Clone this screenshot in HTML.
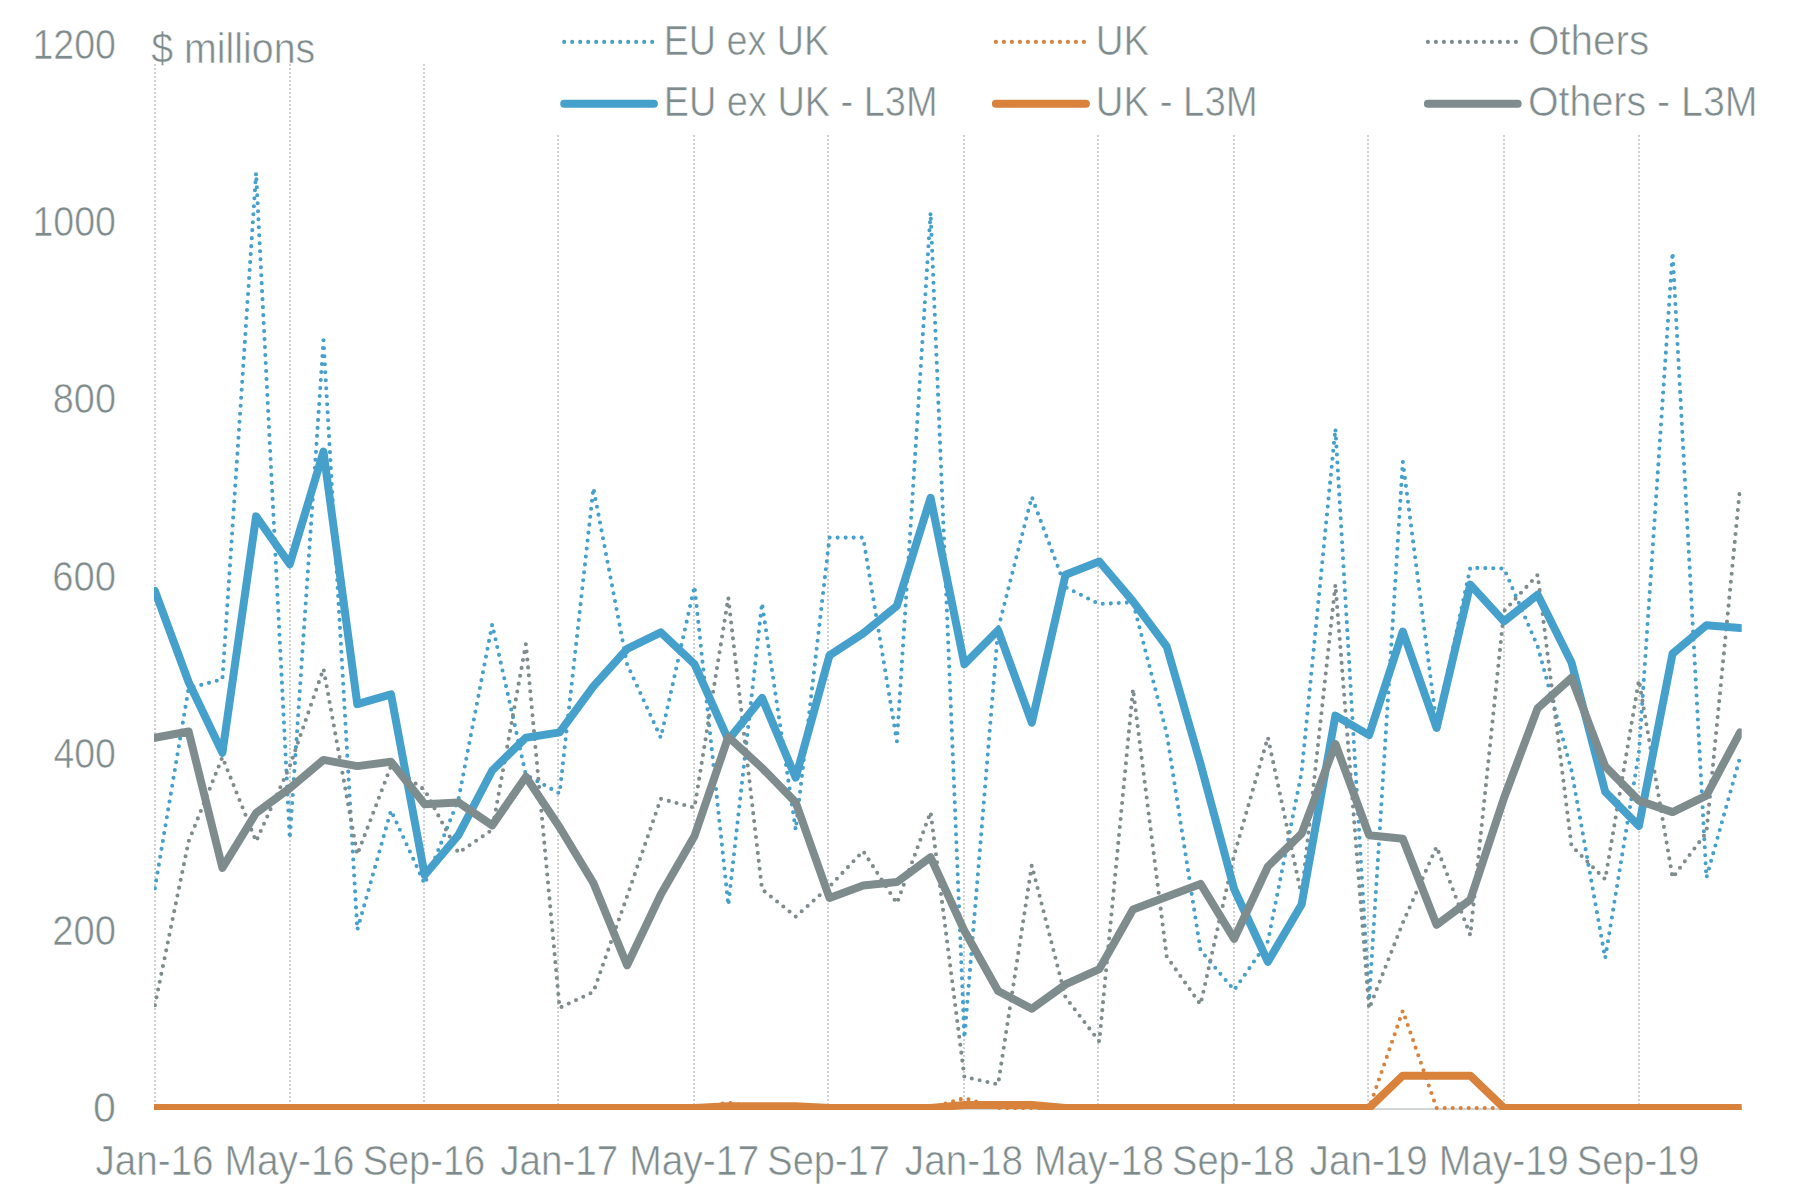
<!DOCTYPE html>
<html lang="en"><head><meta charset="utf-8"><title>Chart</title>
<style>html,body{margin:0;padding:0;background:#fff}svg{display:block}text{font-family:"Liberation Sans",sans-serif;font-size:42.5px;fill:#7F8C8D;stroke:#fff;stroke-width:0.6px}</style></head><body>
<svg width="1816" height="1196" viewBox="0 0 1816 1196">
<rect width="1816" height="1196" fill="#fff"/>
<line x1="155" y1="64" x2="155" y2="1107" stroke="#d1d1d1" stroke-width="2" stroke-dasharray="2 2"/>
<line x1="290" y1="64" x2="290" y2="1107" stroke="#d1d1d1" stroke-width="2" stroke-dasharray="2 2"/>
<line x1="424" y1="64" x2="424" y2="1107" stroke="#d1d1d1" stroke-width="2" stroke-dasharray="2 2"/>
<line x1="558" y1="135" x2="558" y2="1107" stroke="#d1d1d1" stroke-width="2" stroke-dasharray="2 2"/>
<line x1="694" y1="135" x2="694" y2="1107" stroke="#d1d1d1" stroke-width="2" stroke-dasharray="2 2"/>
<line x1="828" y1="135" x2="828" y2="1107" stroke="#d1d1d1" stroke-width="2" stroke-dasharray="2 2"/>
<line x1="964" y1="135" x2="964" y2="1107" stroke="#d1d1d1" stroke-width="2" stroke-dasharray="2 2"/>
<line x1="1098" y1="135" x2="1098" y2="1107" stroke="#d1d1d1" stroke-width="2" stroke-dasharray="2 2"/>
<line x1="1234" y1="135" x2="1234" y2="1107" stroke="#d1d1d1" stroke-width="2" stroke-dasharray="2 2"/>
<line x1="1368" y1="135" x2="1368" y2="1107" stroke="#d1d1d1" stroke-width="2" stroke-dasharray="2 2"/>
<line x1="1504" y1="135" x2="1504" y2="1107" stroke="#d1d1d1" stroke-width="2" stroke-dasharray="2 2"/>
<line x1="1639" y1="135" x2="1639" y2="1107" stroke="#d1d1d1" stroke-width="2" stroke-dasharray="2 2"/>
<line x1="154" y1="1109" x2="1741.7" y2="1109" stroke="#d2d5d5" stroke-width="2"/>
<clipPath id="pc"><rect x="154" y="60" width="1587.7" height="1050"/></clipPath><g clip-path="url(#pc)">
<polyline points="154.9,888.3 188.6,688.2 222.4,679.3 256.1,172.8 289.8,838.7 323.5,340.2 357.3,929.9 391.0,810.4 424.7,883.9 458.4,799.7 492.2,624.4 525.9,774.9 559.6,793.5 593.4,488.0 627.1,664.2 660.8,737.7 694.5,586.3 728.3,905.1 762.0,603.2 795.7,829.8 829.5,537.6 863.2,537.6 896.9,741.3 930.6,212.6 964.4,1037.9 998.1,628.8 1031.8,496.9 1065.5,587.2 1099.3,604.0 1133.0,602.3 1166.7,733.3 1200.5,950.3 1234.2,990.1 1267.9,941.4 1301.6,772.3 1335.4,428.7 1369.1,1000.7 1402.8,461.5 1436.6,724.5 1470.3,567.7 1504.0,568.6 1537.7,646.5 1571.5,770.5 1605.2,958.2 1638.9,752.8 1672.6,252.5 1706.4,877.7 1740.1,757.2" fill="none" stroke="#46A0CC" stroke-width="4.1" stroke-dasharray="0 8" stroke-linecap="round" stroke-linejoin="round"/>
<polyline points="154.9,1108.0 188.6,1108.0 222.4,1108.0 256.1,1108.0 289.8,1108.0 323.5,1108.0 357.3,1108.0 391.0,1108.0 424.7,1108.0 458.4,1108.0 492.2,1108.0 525.9,1108.0 559.6,1108.0 593.4,1108.0 627.1,1108.0 660.8,1108.0 694.5,1108.0 728.3,1102.6 762.0,1108.0 795.7,1108.0 829.5,1108.0 863.2,1108.0 896.9,1108.0 930.6,1108.0 964.4,1098.1 998.1,1108.0 1031.8,1108.0 1065.5,1108.0 1099.3,1108.0 1133.0,1108.0 1166.7,1108.0 1200.5,1108.0 1234.2,1108.0 1267.9,1108.0 1301.6,1108.0 1335.4,1108.0 1369.1,1108.0 1402.8,1010.7 1436.6,1108.0 1470.3,1108.0 1504.0,1108.0 1537.7,1108.0 1571.5,1108.0 1605.2,1108.0 1638.9,1108.0 1672.6,1108.0 1706.4,1108.0 1740.1,1108.0" fill="none" stroke="#D9823C" stroke-width="4.1" stroke-dasharray="0 8" stroke-linecap="round" stroke-linejoin="round"/>
<polyline points="154.9,1005.2 188.6,841.4 222.4,757.2 256.1,841.4 289.8,766.1 323.5,668.7 357.3,854.6 391.0,766.1 424.7,790.0 458.4,852.9 492.2,829.8 525.9,643.9 559.6,1007.8 593.4,991.9 627.1,896.3 660.8,798.8 694.5,807.7 728.3,597.8 762.0,889.2 795.7,916.6 829.5,886.5 863.2,851.1 896.9,903.3 930.6,812.1 964.4,1076.9 998.1,1084.4 1031.8,865.3 1065.5,997.2 1099.3,1041.5 1133.0,689.0 1166.7,956.5 1200.5,1004.5 1234.2,855.0 1267.9,737.3 1301.6,895.7 1335.4,584.6 1369.1,1008.7 1402.8,922.8 1436.6,846.7 1470.3,935.2 1504.0,611.1 1537.7,574.8 1571.5,845.8 1605.2,879.4 1638.9,680.2 1672.6,877.7 1706.4,832.5 1740.1,487.1" fill="none" stroke="#7F8C8D" stroke-width="4.1" stroke-dasharray="0 8" stroke-linecap="round" stroke-linejoin="round"/>
<polyline points="154.9,590.8 188.6,682.0 222.4,752.8 256.1,516.4 289.8,564.2 323.5,451.7 357.3,704.1 391.0,694.4 424.7,875.0 458.4,835.2 492.2,770.5 525.9,737.7 559.6,732.4 593.4,686.4 627.1,648.8 660.8,632.4 694.5,664.2 728.3,739.9 762.0,697.9 795.7,777.6 829.5,655.4 863.2,633.3 896.9,605.8 930.6,497.8 964.4,664.2 998.1,630.2 1031.8,722.7 1065.5,574.8 1099.3,561.5 1133.0,601.4 1166.7,646.5 1200.5,763.8 1234.2,889.3 1267.9,961.8 1301.6,904.5 1335.4,715.6 1369.1,735.1 1402.8,631.5 1436.6,728.0 1470.3,584.6 1504.0,621.4 1537.7,594.7 1571.5,662.5 1605.2,791.8 1638.9,826.0 1672.6,653.6 1706.4,625.3 1740.1,627.9" fill="none" stroke="#46A0CC" stroke-width="8" stroke-linecap="round" stroke-linejoin="round"/>
<polyline points="154.9,737.7 188.6,731.5 222.4,867.9 256.1,813.0 289.8,788.2 323.5,759.9 357.3,766.1 391.0,761.7 424.7,804.2 458.4,802.4 492.2,825.4 525.9,776.7 559.6,827.2 593.4,883.0 627.1,965.3 660.8,894.5 694.5,836.0 728.3,736.9 762.0,767.9 795.7,802.4 829.5,898.0 863.2,885.6 896.9,882.1 930.6,857.3 964.4,930.8 998.1,991.0 1031.8,1008.7 1065.5,984.4 1099.3,969.1 1133.0,909.5 1166.7,896.7 1200.5,883.9 1234.2,938.8 1267.9,866.5 1301.6,833.6 1335.4,743.9 1369.1,835.2 1402.8,838.7 1436.6,924.9 1470.3,899.8 1504.0,798.0 1537.7,708.2 1571.5,677.8 1605.2,766.4 1638.9,800.6 1672.6,812.1 1706.4,795.6 1740.1,732.4" fill="none" stroke="#7F8C8D" stroke-width="8" stroke-linecap="round" stroke-linejoin="round"/>
<polyline points="154.9,1108.0 188.6,1108.0 222.4,1108.0 256.1,1108.0 289.8,1108.0 323.5,1108.0 357.3,1108.0 391.0,1108.0 424.7,1108.0 458.4,1108.0 492.2,1108.0 525.9,1108.0 559.6,1108.0 593.4,1108.0 627.1,1108.0 660.8,1108.0 694.5,1108.0 728.3,1106.2 762.0,1106.2 795.7,1106.2 829.5,1108.0 863.2,1108.0 896.9,1108.0 930.6,1108.0 964.4,1104.9 998.1,1104.9 1031.8,1104.9 1065.5,1108.0 1099.3,1108.0 1133.0,1108.0 1166.7,1108.0 1200.5,1108.0 1234.2,1108.0 1267.9,1108.0 1301.6,1108.0 1335.4,1108.0 1369.1,1108.0 1402.8,1075.7 1436.6,1075.7 1470.3,1075.7 1504.0,1108.0 1537.7,1108.0 1571.5,1108.0 1605.2,1108.0 1638.9,1108.0 1672.6,1108.0 1706.4,1108.0 1740.1,1108.0" fill="none" stroke="#D9823C" stroke-width="8" stroke-linecap="round" stroke-linejoin="round"/>
</g>
<text x="93.11" y="1121.8" textLength="22.91" lengthAdjust="spacingAndGlyphs">0</text>
<text x="52.21" y="944.7" textLength="63.74" lengthAdjust="spacingAndGlyphs">200</text>
<text x="53.41" y="767.6" textLength="62.52" lengthAdjust="spacingAndGlyphs">400</text>
<text x="52.21" y="590.5" textLength="63.74" lengthAdjust="spacingAndGlyphs">600</text>
<text x="52.82" y="413.4" textLength="63.12" lengthAdjust="spacingAndGlyphs">800</text>
<text x="32.45" y="236.3" textLength="83.48" lengthAdjust="spacingAndGlyphs">1000</text>
<text x="32.45" y="59.2" textLength="83.48" lengthAdjust="spacingAndGlyphs">1200</text>
<text x="151.20" y="62.6" textLength="164.03" lengthAdjust="spacingAndGlyphs">$ millions</text>
<text x="95.40" y="1175.4" textLength="118.17" lengthAdjust="spacingAndGlyphs">Jan-16</text>
<text x="224.46" y="1175.4" textLength="130.03" lengthAdjust="spacingAndGlyphs">May-16</text>
<text x="362.63" y="1175.4" textLength="122.53" lengthAdjust="spacingAndGlyphs">Sep-16</text>
<text x="500.13" y="1175.4" textLength="118.17" lengthAdjust="spacingAndGlyphs">Jan-17</text>
<text x="629.20" y="1175.4" textLength="130.03" lengthAdjust="spacingAndGlyphs">May-17</text>
<text x="767.37" y="1175.4" textLength="122.53" lengthAdjust="spacingAndGlyphs">Sep-17</text>
<text x="904.86" y="1175.4" textLength="118.17" lengthAdjust="spacingAndGlyphs">Jan-18</text>
<text x="1033.93" y="1175.4" textLength="130.03" lengthAdjust="spacingAndGlyphs">May-18</text>
<text x="1172.10" y="1175.4" textLength="122.53" lengthAdjust="spacingAndGlyphs">Sep-18</text>
<text x="1309.59" y="1175.4" textLength="118.17" lengthAdjust="spacingAndGlyphs">Jan-19</text>
<text x="1438.66" y="1175.4" textLength="130.03" lengthAdjust="spacingAndGlyphs">May-19</text>
<text x="1576.83" y="1175.4" textLength="122.53" lengthAdjust="spacingAndGlyphs">Sep-19</text>
<line x1="564.2" y1="41.9" x2="652.3" y2="41.9" stroke="#46A0CC" stroke-width="4.1" stroke-dasharray="0 8" stroke-linecap="round"/>
<line x1="564.2" y1="103.7" x2="653.9" y2="103.7" stroke="#46A0CC" stroke-width="8" stroke-linecap="round"/>
<text x="663.65" y="55.0" textLength="165.55" lengthAdjust="spacingAndGlyphs">EU ex UK</text>
<text x="663.64" y="115.8" textLength="273.92" lengthAdjust="spacingAndGlyphs">EU ex UK - L3M</text>
<line x1="995.9" y1="41.9" x2="1084.0" y2="41.9" stroke="#D9823C" stroke-width="4.1" stroke-dasharray="0 8" stroke-linecap="round"/>
<line x1="995.9" y1="103.7" x2="1085.9" y2="103.7" stroke="#D9823C" stroke-width="8" stroke-linecap="round"/>
<text x="1095.69" y="55.0" textLength="53.52" lengthAdjust="spacingAndGlyphs">UK</text>
<text x="1095.70" y="115.8" textLength="161.98" lengthAdjust="spacingAndGlyphs">UK - L3M</text>
<line x1="1427.9" y1="41.9" x2="1516.0" y2="41.9" stroke="#7F8C8D" stroke-width="4.1" stroke-dasharray="0 8" stroke-linecap="round"/>
<line x1="1427.9" y1="103.7" x2="1517.7" y2="103.7" stroke="#7F8C8D" stroke-width="8" stroke-linecap="round"/>
<text x="1527.90" y="55.0" textLength="121.36" lengthAdjust="spacingAndGlyphs">Others</text>
<text x="1527.95" y="115.8" textLength="229.70" lengthAdjust="spacingAndGlyphs">Others - L3M</text>
</svg></body></html>
